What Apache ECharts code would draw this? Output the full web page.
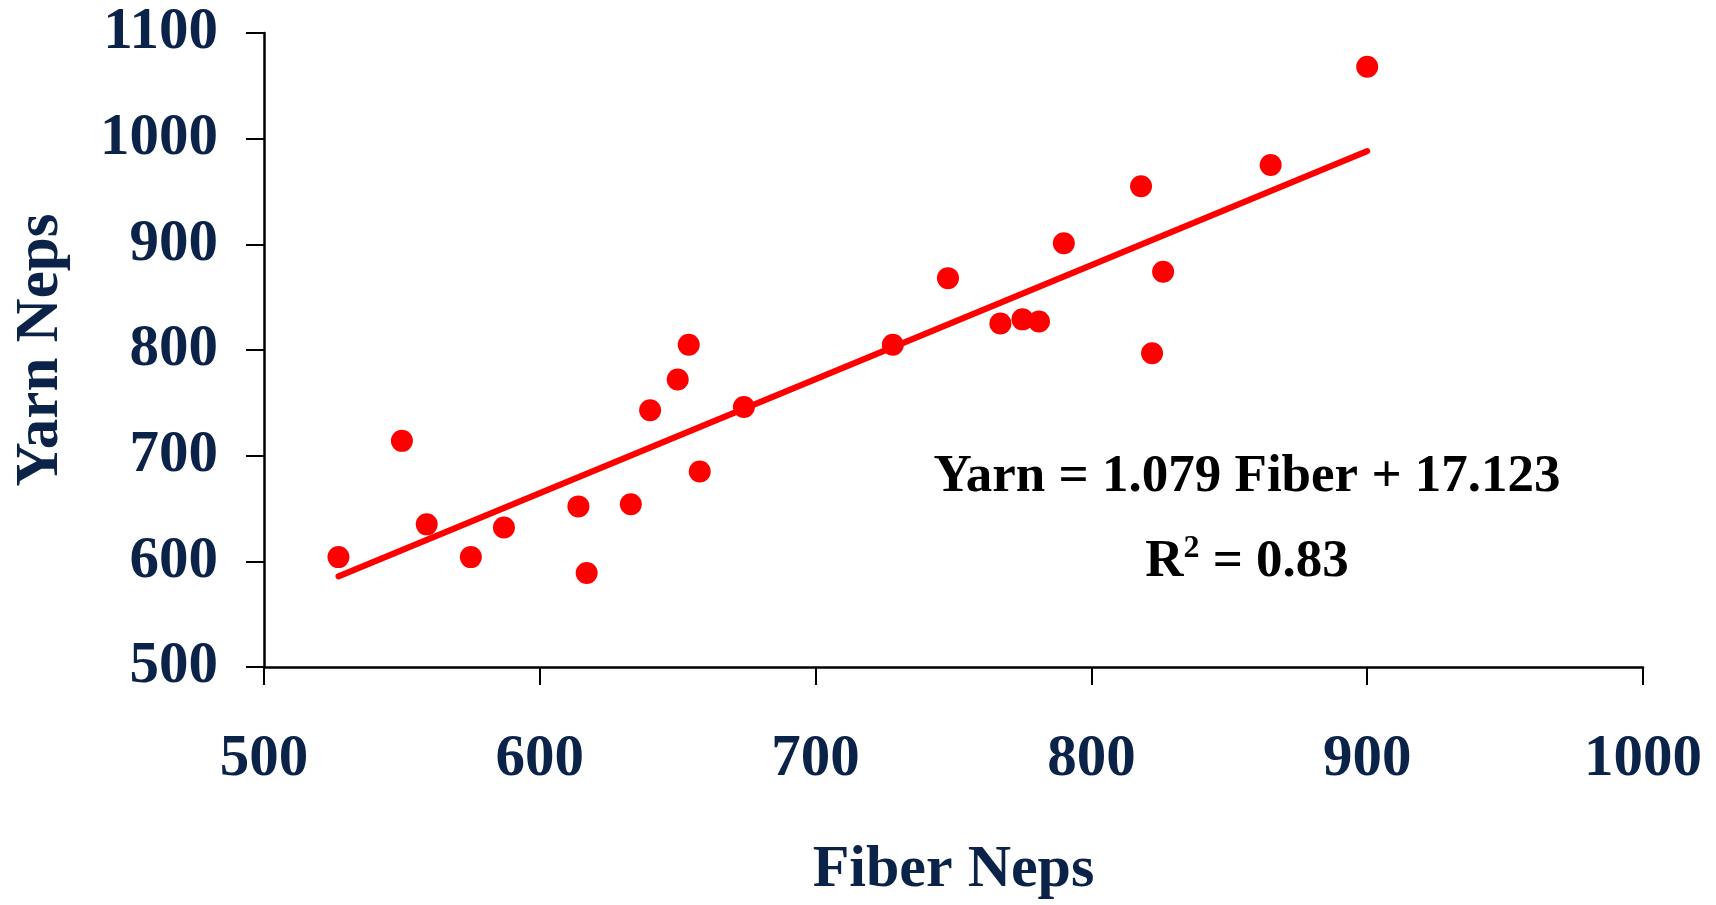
<!DOCTYPE html>
<html>
<head>
<meta charset="utf-8">
<script src="https://cdn.jsdelivr.net/npm/echarts@6/dist/echarts.min.js"></script>
<style>
  html, body { margin: 0; padding: 0; background: #ffffff; }
  #chart { width: 1716px; height: 905px; }
</style>
</head>
<body>
<div id="chart"></div>
<script>
// Fiber neps (x) and yarn neps (y)
var fiberNeps = [527, 550, 559, 575, 587, 614, 617, 633, 640, 650, 654, 658, 674, 728, 748, 767, 775, 781, 790, 818, 826, 822, 865, 900];
var yarnNeps  = [604, 714, 635, 604, 632, 652, 589, 654, 743, 772, 805, 685, 746, 805, 868, 825, 829, 827, 901, 955, 874, 797, 975, 1068];

// Regression shown on the chart
var slope = 1.079;
var intercept = 17.123;
var rSquared = 0.83;

var xTicks = [500, 600, 700, 800, 900, 1000];
var yTicks = [500, 600, 700, 800, 900, 1000, 1100];

var points = fiberNeps.map(function (x, i) { return [x, yarnNeps[i]]; });
var xMin = Math.min.apply(null, fiberNeps);
var xMax = Math.max.apply(null, fiberNeps);
var fitLine = [[xMin, slope * xMin + intercept], [xMax, slope * xMax + intercept]];

var navy = '#0b2249';
var serif = '"Liberation Serif", "Times New Roman", serif';
function plain(v) { return String(v); }

var chart = echarts.init(document.getElementById('chart'));
chart.setOption({
  backgroundColor: '#ffffff',
  animation: false,
  grid: { left: 264, right: 73, top: 33, bottom: 232, containLabel: false },
  xAxis: {
    type: 'value',
    min: xTicks[0], max: xTicks[xTicks.length - 1], interval: 100,
    name: 'Fiber Neps',
    nameLocation: 'middle',
    nameGap: 173,
    nameTextStyle: { color: navy, fontFamily: serif, fontWeight: 'bold', fontSize: 60 },
    axisLine: { onZero: false, lineStyle: { color: '#000', width: 2.5 } },
    axisTick: { show: true, inside: false, length: 18, lineStyle: { color: '#000', width: 2 } },
    axisLabel: { color: navy, fontFamily: serif, fontWeight: 'bold', fontSize: 59, margin: 63, formatter: plain },
    splitLine: { show: false }
  },
  yAxis: {
    type: 'value',
    min: yTicks[0], max: yTicks[yTicks.length - 1], interval: 100,
    name: 'Yarn Neps',
    nameLocation: 'middle',
    nameGap: 192,
    nameTextStyle: { color: navy, fontFamily: serif, fontWeight: 'bold', fontSize: 61 },
    axisLine: { onZero: false, lineStyle: { color: '#000', width: 2.5 } },
    axisTick: { show: true, inside: false, length: 18, lineStyle: { color: '#000', width: 2 } },
    axisLabel: { color: navy, fontFamily: serif, fontWeight: 'bold', fontSize: 59, margin: 46, formatter: plain },
    splitLine: { show: false }
  },
  series: [
    {
      type: 'line',
      data: fitLine,
      showSymbol: false,
      symbol: 'none',
      lineStyle: { color: '#ff0000', width: 6, cap: 'round' },
      z: 2
    },
    {
      type: 'scatter',
      data: points,
      symbol: 'circle',
      symbolSize: 22,
      itemStyle: { color: '#ff0000', opacity: 1 },
      z: 3
    }
  ],
  graphic: [
    {
      type: 'text',
      x: 1247, y: 477,
      style: {
        text: 'Yarn = ' + slope.toFixed(3) + ' Fiber + ' + intercept.toFixed(3),
        fill: '#000',
        font: 'bold 53px ' + serif,
        textAlign: 'center',
        textVerticalAlign: 'middle'
      }
    },
    {
      type: 'text',
      x: 1247, y: 562,
      style: {
        text: '{b|R}{s|2}{b| = ' + rSquared.toFixed(2) + '}',
        align: 'center',
        verticalAlign: 'middle',
        rich: {
          b: { fontFamily: serif, fontWeight: 'bold', fontSize: 53, fill: '#000', lineHeight: 58 },
          s: { fontFamily: serif, fontWeight: 'bold', fontSize: 32, fill: '#000', verticalAlign: 'top', lineHeight: 58 }
        }
      }
    }
  ]
});
</script>
</body>
</html>
